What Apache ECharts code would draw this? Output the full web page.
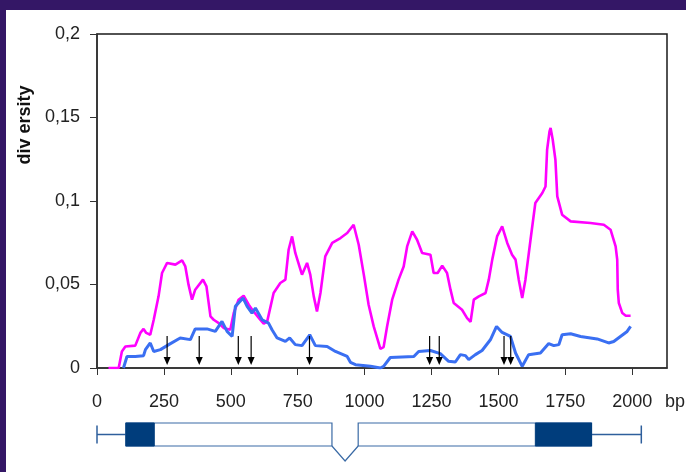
<!DOCTYPE html>
<html>
<head>
<meta charset="utf-8">
<script src="https://cdn.jsdelivr.net/npm/echarts@6/dist/echarts.min.js"></script>
<style>
  html, body { margin: 0; padding: 0; }
  body { width: 686px; height: 472px; background: #341766; position: relative; overflow: hidden; }
  #chart { position: absolute; left: 6px; top: 10px; width: 680px; height: 462px; background: #ffffff; }
</style>
</head>
<body>
<div id="chart"></div>
<script>
// Nucleotide diversity along the gene (position in bp)
const magentaBp = [43, 81, 93, 106, 143, 162, 174, 184, 199, 212, 230, 243, 262, 293, 318, 330, 342, 355, 367, 396, 409, 424, 436, 455, 473, 498, 511, 529, 548, 567, 585, 610, 623, 636, 660, 685, 704, 716, 729, 741, 766, 785, 797, 810, 822, 835, 853, 879, 910, 935, 959, 966, 978, 997, 1015, 1034, 1059, 1071, 1084, 1103, 1127, 1146, 1159, 1178, 1196, 1215, 1246, 1258, 1273, 1290, 1308, 1321, 1333, 1364, 1383, 1396, 1408, 1427, 1452, 1464, 1477, 1495, 1514, 1533, 1551, 1564, 1576, 1589, 1601, 1620, 1638, 1664, 1676, 1682, 1691, 1695, 1703, 1713, 1720, 1738, 1770, 1844, 1894, 1919, 1938, 1944, 1946, 1950, 1963, 1976, 1994];
const magentaDiv = [0, 0, 0.0099, 0.0129, 0.0134, 0.021, 0.0234, 0.021, 0.0199, 0.0289, 0.0429, 0.0569, 0.0629, 0.0619, 0.0644, 0.0608, 0.0499, 0.0409, 0.0469, 0.0529, 0.0489, 0.0309, 0.0289, 0.0269, 0.024, 0.0229, 0.0329, 0.0409, 0.0433, 0.0379, 0.0339, 0.0289, 0.0265, 0.0279, 0.0449, 0.0509, 0.0529, 0.0708, 0.0788, 0.0689, 0.0559, 0.0629, 0.0559, 0.0429, 0.0339, 0.0449, 0.0668, 0.0749, 0.0778, 0.0808, 0.0858, 0.0848, 0.0738, 0.0559, 0.0379, 0.0249, 0.0115, 0.0125, 0.0249, 0.0409, 0.0529, 0.0608, 0.0728, 0.0818, 0.0768, 0.0689, 0.0678, 0.0569, 0.0569, 0.0613, 0.0569, 0.0469, 0.0389, 0.0349, 0.0299, 0.0277, 0.0409, 0.0429, 0.0449, 0.0529, 0.0649, 0.0788, 0.0848, 0.0749, 0.0678, 0.0649, 0.0529, 0.0419, 0.0529, 0.0768, 0.0988, 0.1048, 0.1087, 0.1307, 0.1417, 0.1437, 0.1367, 0.1247, 0.1028, 0.0918, 0.0878, 0.0868, 0.0858, 0.0828, 0.0728, 0.0649, 0.0469, 0.0389, 0.0329, 0.0313, 0.0313];

const blueBp = [99, 112, 143, 174, 181, 199, 212, 237, 268, 311, 349, 367, 411, 442, 467, 486, 505, 517, 546, 561, 579, 592, 617, 641, 654, 673, 704, 720, 741, 766, 795, 816, 860, 891, 935, 947, 966, 1022, 1059, 1071, 1096, 1184, 1202, 1246, 1283, 1314, 1339, 1358, 1377, 1389, 1414, 1439, 1470, 1493, 1514, 1545, 1564, 1589, 1613, 1657, 1688, 1707, 1726, 1738, 1770, 1807, 1869, 1912, 1931, 1956, 1981, 1994];
const blueDiv = [0, 0.0069, 0.0069, 0.0074, 0.011, 0.015, 0.0099, 0.011, 0.014, 0.018, 0.017, 0.0234, 0.0234, 0.0219, 0.0279, 0.0219, 0.0189, 0.0369, 0.0419, 0.0369, 0.0329, 0.0359, 0.0289, 0.0269, 0.0229, 0.018, 0.0159, 0.018, 0.014, 0.0134, 0.0199, 0.0134, 0.0129, 0.0099, 0.0069, 0.0034, 0.002, 0.001, 0, 0.001, 0.0063, 0.0069, 0.0099, 0.0105, 0.0086, 0.004, 0.0036, 0.008, 0.0074, 0.005, 0.008, 0.0105, 0.0169, 0.0249, 0.0213, 0.0189, 0.009, 0.001, 0.008, 0.009, 0.0146, 0.0134, 0.014, 0.0199, 0.0205, 0.0189, 0.0174, 0.015, 0.0159, 0.0189, 0.0219, 0.0249];

// Positions (bp) marked with downward arrows
const arrowBp = [262, 382, 528, 576, 794, 1243, 1279, 1521, 1546];

// Axis ticks
const xTicks = [0, 250, 500, 750, 1000, 1250, 1500, 1750, 2000];
const yTicks = [0, 0.05, 0.1, 0.15, 0.2];

// Gene model (bp): whisker extent, exons, dark-filled blocks, intron
const geneSpan = [0, 2034];
const exons = [[108, 878], [976, 1848]];
const darkBlocks = [[108, 214], [1638, 1848]];
const intron = [878, 976];

const X_MAX = 2130;
const GRID_LEFT = 91, GRID_WIDTH = 570;
const FONT = 'Liberation Sans, Arial, sans-serif';

const chart = echarts.init(document.getElementById('chart'), null, { renderer: 'canvas' });

const zip = (a, b) => a.map((v, i) => [v, b[i]]);

chart.setOption({
  animation: false,
  backgroundColor: '#ffffff',
  textStyle: { fontFamily: FONT },
  grid: [
    { left: GRID_LEFT, top: 24, width: GRID_WIDTH, height: 334, show: true, borderColor: '#1a1a1a', borderWidth: 1.5, backgroundColor: '#ffffff' },
    { left: GRID_LEFT, top: 413, width: GRID_WIDTH, height: 23 }
  ],
  xAxis: [
    {
      gridIndex: 0, type: 'value', min: 0, max: X_MAX,
      axisLine: { show: true, lineStyle: { color: '#333', width: 1.5 } },
      axisTick: { show: true, length: 7, lineStyle: { color: '#333' }, customValues: xTicks },
      axisLabel: { show: true, margin: 25, fontSize: 18, color: '#222', customValues: xTicks, formatter: v => String(v) },
      splitLine: { show: false }
    },
    { gridIndex: 1, type: 'value', min: 0, max: X_MAX, show: false }
  ],
  yAxis: [
    {
      gridIndex: 0, type: 'value', min: yTicks[0], max: yTicks[yTicks.length - 1], interval: 0.05,
      axisLine: { show: true, lineStyle: { color: '#333', width: 1.5 } },
      axisTick: { show: true, length: 7, lineStyle: { color: '#333' } },
      axisLabel: { margin: 17, fontSize: 18, color: '#222', padding: [0, 0, 7, 0], formatter: v => String(+v.toFixed(2)).replace('.', ',') },
      splitLine: { show: false }
    },
    { gridIndex: 1, type: 'value', min: 0, max: 1, show: false }
  ],
  graphic: [
    { type: 'text', x: 19, y: 115, rotation: Math.PI / 2,
      style: { text: 'div ersity', fontSize: 18, fontWeight: 'bold', fill: '#111', fontFamily: FONT, align: 'center', verticalAlign: 'middle' } },
    { type: 'text', x: 659, y: 383,
      style: { text: 'bp', fontSize: 18, fill: '#222', fontFamily: FONT } }
  ],
  series: [
    {
      type: 'line', xAxisIndex: 0, yAxisIndex: 0, data: zip(magentaBp, magentaDiv),
      symbol: 'none', lineStyle: { color: '#ff00ff', width: 2.6 }, z: 3
    },
    {
      type: 'line', xAxisIndex: 0, yAxisIndex: 0, data: zip(blueBp, blueDiv),
      symbol: 'none', lineStyle: { color: '#3a6ff2', width: 3 }, z: 4
    },
    {
      // downward arrows pointing at the x axis
      type: 'custom', xAxisIndex: 0, yAxisIndex: 0, z: 5,
      data: arrowBp.map(v => [v]),
      renderItem: (params, api) => {
        const p = api.coord([api.value(0), 0]);
        const tipY = p[1] - 3, topY = tipY - 29, hx = 3.5, hh = 8;
        return {
          type: 'group', children: [
            { type: 'line', shape: { x1: p[0], y1: topY, x2: p[0], y2: tipY - hh + 1 }, style: { stroke: '#000', lineWidth: 1.2 } },
            { type: 'polygon', shape: { points: [[p[0] - hx, tipY - hh], [p[0] + hx, tipY - hh], [p[0], tipY]] }, style: { fill: '#000' } }
          ]
        };
      }
    },
    {
      // gene model drawn along the same bp scale
      type: 'custom', xAxisIndex: 1, yAxisIndex: 1, z: 5,
      data: [[0]],
      renderItem: (params, api) => {
        const top = api.coord([0, 1])[1], bot = api.coord([0, 0])[1];
        const mid = (top + bot) / 2;
        const X = v => api.coord([v, 0])[0];
        const stroke = '#3a6aa5', wire = '#2e5f9c';
        const kids = [];
        const firstStart = exons[0][0], lastEnd = exons[exons.length - 1][1];
        kids.push({ type: 'line', shape: { x1: X(geneSpan[0]), y1: mid, x2: X(firstStart), y2: mid }, style: { stroke: wire, lineWidth: 1.5 } });
        kids.push({ type: 'line', shape: { x1: X(lastEnd), y1: mid, x2: X(geneSpan[1]), y2: mid }, style: { stroke: wire, lineWidth: 1.5 } });
        kids.push({ type: 'line', shape: { x1: X(geneSpan[0]), y1: mid - 9, x2: X(geneSpan[0]), y2: mid + 9 }, style: { stroke: wire, lineWidth: 1.5 } });
        kids.push({ type: 'line', shape: { x1: X(geneSpan[1]), y1: mid - 9, x2: X(geneSpan[1]), y2: mid + 9 }, style: { stroke: wire, lineWidth: 1.5 } });
        exons.forEach(e => {
          kids.push({ type: 'rect', shape: { x: X(e[0]), y: top, width: X(e[1]) - X(e[0]), height: bot - top }, style: { fill: '#ffffff', stroke: stroke, lineWidth: 1.2 } });
        });
        darkBlocks.forEach(b => {
          kids.push({ type: 'rect', shape: { x: X(b[0]), y: top, width: X(b[1]) - X(b[0]), height: bot - top }, style: { fill: '#003d7c', stroke: '#003d7c', lineWidth: 1 } });
        });
        kids.push({ type: 'polyline', shape: { points: [[X(intron[0]), bot], [(X(intron[0]) + X(intron[1])) / 2, bot + 15], [X(intron[1]), bot]] }, style: { stroke: stroke, lineWidth: 1.2, fill: null } });
        return { type: 'group', children: kids };
      }
    }
  ]
});
</script>
</body>
</html>
